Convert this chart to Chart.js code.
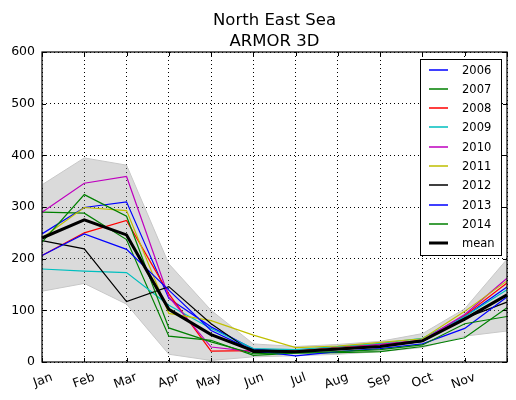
<!DOCTYPE html>
<html>
<head>
<meta charset="utf-8">
<script src="https://cdn.jsdelivr.net/npm/chart.js@4.4.1/dist/chart.umd.min.js"></script>
<style>
html,body{margin:0;padding:0;background:#fff;}
#wrap{width:516px;height:400px;}
</style>
</head>
<body>
<div id="wrap"><canvas id="c" width="516" height="400"></canvas></div>
<script>
const titleLines = ['North East Sea', 'ARMOR 3D'];
const months = ['Jan','Feb','Mar','Apr','May','Jun','Jul','Aug','Sep','Oct','Nov','Dec'];
const xTickLabels = ['Jan','Feb','Mar','Apr','May','Jun','Jul','Aug','Sep','Oct','Nov'];
const yTicks = [0,100,200,300,400,500,600];

const y2006 = [248, 299, 310, 123, 68, 25, 20, 25, 30, 40, 88, 145];
const y2007 = [290, 288, 237, 50, 42, 13, 17, 18, 20, 30, 47, 105];
const y2008 = [206, 250, 274, 132, 21, 22, 22, 29, 34, 42, 90, 153];
const y2009 = [180, 176, 173, 110, 65, 26, 24, 30, 36, 46, 88, 140];
const y2010 = [290, 346, 359, 126, 29, 20, 20, 26, 34, 42, 92, 162];
const y2011 = [240, 299, 293, 94, 80, 52, 28, 31, 38, 45, 98, 157];
const y2012 = [235, 219, 117, 146, 74, 18, 20, 24, 30, 40, 85, 116];
const y2013 = [206, 248, 218, 139, 61, 22, 12, 20, 26, 35, 65, 126];
const y2014 = [232, 324, 282, 66, 39, 16, 18, 20, 24, 33, 74, 88];
const yMean = [240, 275, 246, 102, 53, 22, 20, 25, 30, 41, 83, 130];
const bandUpper = [343, 395, 381, 190, 100, 35, 30, 34, 40, 55, 103, 199];
const bandLower = [137, 152, 112, 15, 3, 10, 12, 15, 20, 28, 50, 60];

const FONT = '"DejaVu Sans", "Liberation Sans", sans-serif';

function line(label, data, color, order, width) {
  return {label, data, borderColor: color, backgroundColor: color, borderWidth: width || 1.2,
          pointRadius: 0, tension: 0, fill: false, order, legendColor: color, legendWidth: width || 1.5};
}

const datasets = [
  {label: 'band_upper', data: bandUpper, borderColor: '#c8c8c8', borderWidth: 1, pointRadius: 0,
   fill: '+1', backgroundColor: 'rgba(150,150,150,0.35)', order: 30, isBand: true},
  {label: 'band_lower', data: bandLower, borderColor: '#c8c8c8', borderWidth: 1, pointRadius: 0,
   fill: false, order: 29, isBand: true},
  line('2006', y2006, '#0000ff', 20),
  line('2007', y2007, '#008000', 19),
  line('2008', y2008, '#ff0000', 18),
  line('2009', y2009, '#00bfbf', 17),
  line('2010', y2010, '#bf00bf', 16),
  line('2011', y2011, '#bfbf00', 15),
  line('2012', y2012, '#000000', 14),
  line('2013', y2013, '#0000ff', 13),
  line('2014', y2014, '#008000', 12),
  line('mean', yMean, '#000000', 1, 3)
];

const framePlugin = {
  id: 'frame',
  afterDatasetsDraw(chart) {
    const ctx = chart.ctx, a = chart.chartArea;
    const xs = chart.scales.x, ys = chart.scales.y;
    ctx.save();
    ctx.strokeStyle = '#000';
    ctx.lineWidth = 1;
    ctx.setLineDash([]);
    ctx.beginPath();
    for (let i = 0; i < months.length; i++) {
      const px = Math.round(xs.getPixelForValue(i)) + 0.5;
      ctx.moveTo(px, a.bottom); ctx.lineTo(px, a.bottom - 4);
      ctx.moveTo(px, a.top); ctx.lineTo(px, a.top + 4);
    }
    yTicks.forEach(v => {
      const py = Math.round(ys.getPixelForValue(v)) + 0.5;
      ctx.moveTo(a.left, py); ctx.lineTo(a.left + 4, py);
      ctx.moveTo(a.right, py); ctx.lineTo(a.right - 4, py);
    });
    ctx.stroke();
    ctx.lineWidth = 1.2;
    ctx.strokeRect(a.left, a.top, a.right - a.left, a.bottom - a.top);
    ctx.restore();
  },
  afterDraw(chart) {
    const ctx = chart.ctx, a = chart.chartArea;
    ctx.save();
    // title, centred over the plot area
    ctx.fillStyle = '#000';
    ctx.font = '16.5px ' + FONT;
    ctx.textAlign = 'center';
    ctx.textBaseline = 'alphabetic';
    const cx = (a.left + a.right) / 2;
    ctx.fillText(titleLines[0], cx, 25);
    ctx.fillText(titleLines[1], cx, 45.5);

    // legend
    const items = chart.data.datasets.filter(d => !d.isBand);
    const bw = 81, rowH = 19.26;
    const bh = 196;
    const bx = Math.round(a.right - 6 - bw), by = Math.round(a.top + 7);
    ctx.setLineDash([]);
    ctx.fillStyle = '#fff';
    ctx.fillRect(bx, by, bw, bh);
    ctx.strokeStyle = '#000';
    ctx.lineWidth = 1;
    ctx.strokeRect(bx + 0.5, by + 0.5, bw, bh);
    ctx.font = '11.5px ' + FONT;
    ctx.textBaseline = 'middle';
    ctx.textAlign = 'left';
    items.forEach((d, i) => {
      const cy = by + 10.7 + rowH * i;
      const w = d.legendWidth;
      ctx.fillStyle = d.legendColor;
      ctx.fillRect(bx + 9, Math.round(cy) - w / 2, 19, w);
      ctx.fillStyle = '#000';
      ctx.fillText(d.label, bx + 42, cy + 1);
    });
    ctx.restore();
  }
};

new Chart(document.getElementById('c'), {
  type: 'line',
  data: {labels: months, datasets},
  options: {
    responsive: false,
    animation: false,
    layout: {padding: {left: 0, right: 9, top: 52, bottom: 0}},
    plugins: {
      legend: {display: false},
      tooltip: {enabled: false},
      title: {display: false}
    },
    scales: {
      x: {
        type: 'category',
        offset: false,
        afterFit: s => { s.height = 38; s.paddingLeft = 0; s.paddingRight = 0; },
        grid: {display: true, drawTicks: false, color: '#000', lineWidth: 1},
        border: {display: false, dash: [1, 3]},
        ticks: {
          autoSkip: false, maxRotation: 20, minRotation: 20, padding: 8, labelOffset: 10,
          color: '#000', font: {family: FONT, size: 12.5},
          callback: (v, i) => (i < xTickLabels.length ? xTickLabels[i] : '')
        }
      },
      y: {
        min: 0, max: 600,
        afterFit: s => { s.width = 42; s.paddingTop = 0; s.paddingBottom = 0; },
        grid: {display: true, drawTicks: false, color: '#000', lineWidth: 1},
        border: {display: false, dash: [1, 3]},
        ticks: {stepSize: 100, padding: 7, color: '#000', font: {family: FONT, size: 12.5}}
      }
    }
  },
  plugins: [framePlugin]
});
</script>
</body>
</html>
